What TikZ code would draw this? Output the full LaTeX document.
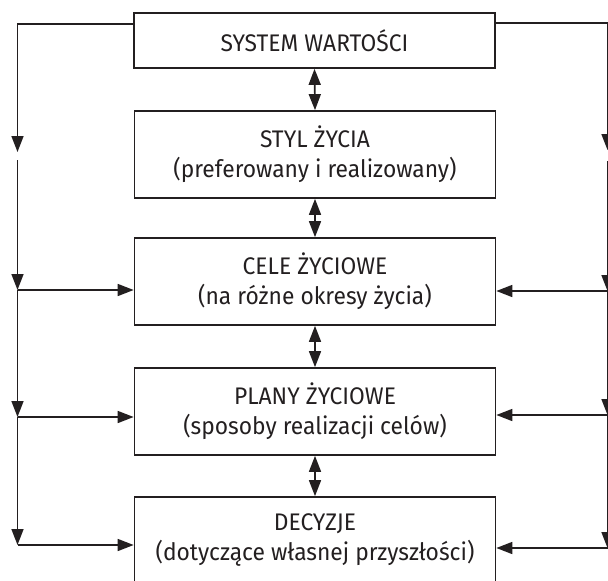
\documentclass[tikz,border=0pt]{standalone}
\usepackage{fontspec}
\setmainfont[FakeStretch=0.95]{Fira Sans}
\usetikzlibrary{arrows.meta}
\definecolor{ink}{HTML}{231F20}
\begin{document}
\begin{tikzpicture}[x=1pt,y=-1pt,
  box/.style={draw=ink,line width=1.7pt,minimum width=361pt,inner sep=0pt,align=center,
    font=\fontsize{24}{30}\selectfont,text=ink},
  arr/.style={draw=ink,line width=1.6pt,-{Triangle[length=16pt,width=12pt]}},
  darr/.style={draw=ink,line width=1.6pt,{Triangle[length=16pt,width=12pt]}-{Triangle[length=16pt,width=12pt]}},
  ln/.style={draw=ink,line width=1.6pt}]
\useasboundingbox (0,0) rectangle (608,581);
\node[box,minimum height=55pt] (b1) at (314.5,40.5) {SYSTEM WARTOŚCI};
\node[box,minimum height=87pt] (b2) at (315,154.5) {STYL ŻYCIA\\(preferowany i realizowany)};
\node[box,minimum height=87pt] (b3) at (315,281.5) {CELE ŻYCIOWE\\(na różne okresy życia)};
\node[box,minimum height=87pt] (b4) at (315,411.5) {PLANY ŻYCIOWE\\(sposoby realizacji celów)};
\node[box,minimum height=87pt] (b5) at (315,540.5) {DECYZJE\\(dotyczące własnej przyszłości)};
% middle double arrows
\draw[darr] (b1.south) -- (b2.north);
\draw[darr] (b2.south) -- (b3.north);
\draw[darr] (b3.south) -- (b4.north);
\draw[darr] (b4.south) -- (b5.north);
% left side
\coordinate (L0) at (17.5,24);
\coordinate (L1) at (17.5,152);
\coordinate (L1b) at (17.5,160);
\coordinate (L2) at (17.5,290);
\coordinate (L3) at (17.5,417);
\coordinate (L4) at (17.5,545);
\draw[arr] (b1.west |- L0) -- (L0) -- (L1);
\draw[arr] (L1b) -- (L2);
\draw[arr] (L2) -- (L2 -| b3.west);
\draw[arr] (L2) -- (L3);
\draw[arr] (L3) -- (L3 -| b4.west);
\draw[arr] (L3) -- (L4);
\draw[arr] (L4) -- (L4 -| b5.west);
% right side
\coordinate (R0) at (607.5,23);
\coordinate (R1) at (607.5,150);
\coordinate (R1b) at (607.5,161);
\coordinate (R2) at (607.5,291);
\coordinate (R3) at (607.5,415);
\coordinate (R4) at (607.5,548);
\draw[arr] (b1.east |- R0) -- (R0) -- (R1);
\draw[arr] (R1b) -- (R2);
\draw[arr] (R2) -- (R2 -| b3.east);
\draw[arr] (R2) -- (R3);
\draw[arr] (R3) -- (R3 -| b4.east);
\draw[arr] (R3) -- (R4);
\draw[arr] (R4) -- (R4 -| b5.east);
\end{tikzpicture}
\end{document}
